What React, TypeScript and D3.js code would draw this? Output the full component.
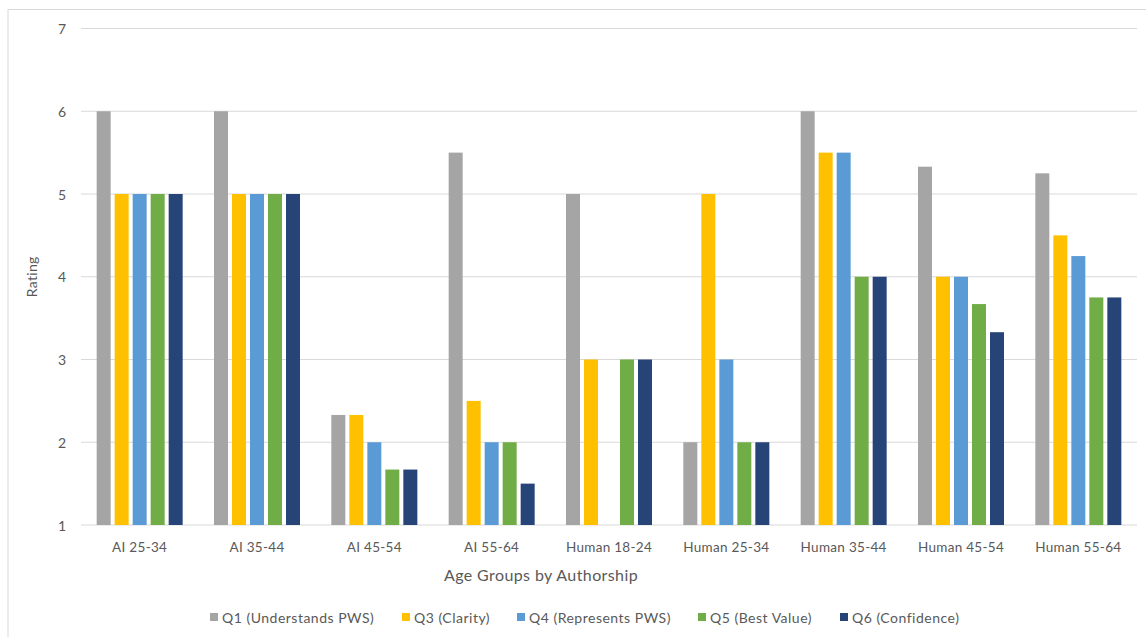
import React from "react";
import * as d3 from "d3";

const categories = ["AI 25-34", "AI 35-44", "AI 45-54", "AI 55-64", "Human 18-24", "Human 25-34", "Human 35-44", "Human 45-54", "Human 55-64"];
const seriesNames = ["Q1 (Understands PWS)", "Q3 (Clarity)", "Q4 (Represents PWS)", "Q5 (Best Value)", "Q6 (Confidence)"];
const seriesColors = ["#A5A5A5", "#FFC000", "#5B9BD5", "#70AD47", "#264478"];
const q1 = [6, 6, 2.33, 5.5, 5, 2, 6, 5.33, 5.25];
const q3 = [5, 5, 2.33, 2.5, 3, 5, 5.5, 4, 4.5];
const q4 = [5, 5, 2, 2, null, 3, 5.5, 4, 4.25];
const q5 = [5, 5, 1.67, 2, 3, 2, 4, 3.67, 3.75];
const q6 = [5, 5, 1.67, 1.5, 3, 2, 4, 3.33, 3.75];
const seriesValues = [q1, q3, q4, q5, q6];
const yTicks = [1, 2, 3, 4, 5, 6, 7];
const legendX = [210, 402, 517, 698, 840];

const W = 1146, H = 637;
const font = "Lato, 'Open Sans', sans-serif";
const textColor = "#595959";

export default function App() {
  const x = d3.scaleBand<string>().domain(categories).range([81, 1137]).padding(0);
  const inner = d3.scaleBand<string>().domain(seriesNames).range([-45, 45]).paddingInner(4 / 18).paddingOuter(2 / 18);
  const y = d3.scaleLinear().domain([1, 7]).range([525, 28.5]);

  return (
    <svg width={W} height={H} style={{ position: "absolute", left: 0, top: 0, background: "#fff" }} fontFamily={font}>
      <rect x={8} y={9.5} width={W} height={H} fill="#fff" stroke="#d9d9d9" strokeWidth={1} />
      {yTicks.map((t) => (
        <g key={t}>
          <line x1={81} x2={1137} y1={y(t)} y2={y(t)} stroke="#d9d9d9" strokeWidth={1} />
          <text x={66} y={y(t)} textAnchor="end" dominantBaseline="central" fontSize={14} fill={textColor}>{t}</text>
        </g>
      ))}
      {seriesValues.map((vals, si) => (
        <g key={si} fill={seriesColors[si]}>
          {vals.map((v, ci) => v == null ? null : (
            <rect key={ci}
              x={(x(categories[ci]) as number) + x.bandwidth() / 2 + (inner(seriesNames[si]) as number)}
              y={y(v)} width={inner.bandwidth()} height={y(1) - y(v)} />
          ))}
        </g>
      ))}
      {categories.map((c) => (
        <text key={c} x={(x(c) as number) + x.bandwidth() / 2} y={547} textAnchor="middle" dominantBaseline="central" fontSize={13.5} letterSpacing={0.3} fill={textColor}>{c}</text>
      ))}
      <text x={541} y={574} textAnchor="middle" dominantBaseline="central" fontSize={16} letterSpacing={0.4} fill={textColor}>Age Groups by Authorship</text>
      <text transform={`translate(31,${y(4)}) rotate(-90)`} textAnchor="middle" dominantBaseline="central" fontSize={14} letterSpacing={0.3} fill={textColor}>Rating</text>
      {seriesNames.map((s, i) => (
        <g key={s} transform={`translate(${legendX[i]},617)`}>
          <rect x={0} y={-4} width={8} height={8} fill={seriesColors[i]} />
          <text x={12} y={0} dominantBaseline="central" fontSize={14} letterSpacing={0.5} fill={textColor}>{s}</text>
        </g>
      ))}
    </svg>
  );
}
